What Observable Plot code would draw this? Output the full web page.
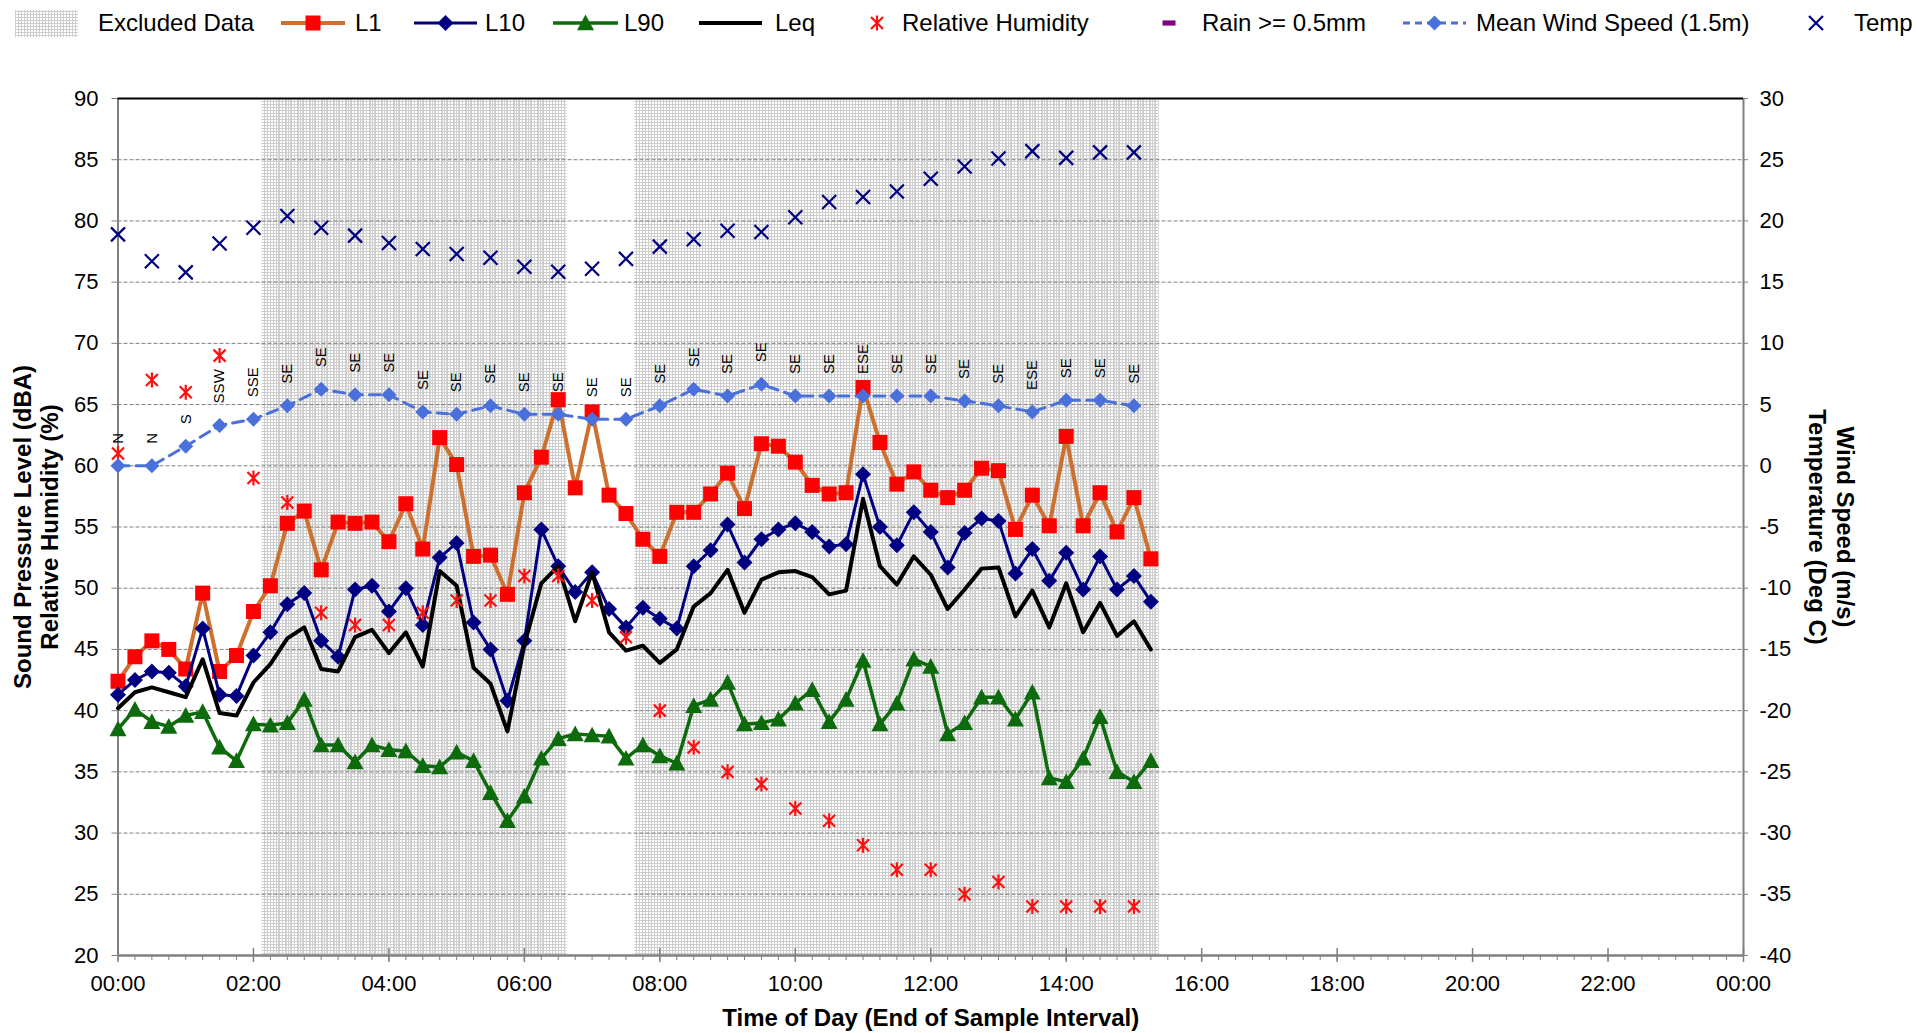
<!DOCTYPE html>
<html>
<head>
<meta charset="utf-8">
<script src="https://cdn.jsdelivr.net/npm/d3@7"></script>
<script src="https://cdn.jsdelivr.net/npm/@observablehq/plot@0.6"></script>
<style>
  html, body { margin: 0; padding: 0; background: #fff; overflow: hidden; }
  body { width: 1919px; height: 1033px; position: relative; font-family: "Liberation Sans", Arial, sans-serif; }
  #legend { position: absolute; left: 0; top: 0; width: 1919px; height: 50px; overflow: hidden; }
  .sw { position: absolute; top: 8px; }
  .lt { position: absolute; top: 0; height: 46px; line-height: 46px; font-size: 24px; white-space: nowrap; color: #000; }
  #chart { position: absolute; left: 0; top: 50px; }
</style>
</head>
<body>
<svg width="0" height="0" style="position:absolute">
  <defs>
    <pattern id="hatchA" width="3" height="3" patternUnits="userSpaceOnUse">
      <path d="M0 0.5H3M0.5 0V3" stroke="#cdcdcd" stroke-width="1" fill="none" shape-rendering="crispEdges"/>
    </pattern>
    <pattern id="hatchB" width="4" height="4" patternUnits="userSpaceOnUse">
      <path d="M2.5 0V4" stroke="#d2d2d2" stroke-width="1" fill="none" shape-rendering="crispEdges"/>
    </pattern>
  </defs>
</svg>
<div id="legend"></div>
<div id="chart"></div>
<script>
// ---------------- DATA ----------------
const OFFSET = 60;            // right axis (m/s, deg C) = left axis (dBA, %) - 60
const NOISE_STEP_H = 0.25;    // 15-minute noise intervals, from 00:00
const WEATHER_STEP_H = 0.5;   // 30-minute weather intervals, from 00:00

const L1 = [42.4,44.4,45.7,45.0,43.4,49.6,43.2,44.5,48.1,50.2,
            55.3,56.3,51.5,55.4,55.3,55.4,53.8,56.9,53.2,62.3,
            60.1,52.6,52.7,49.5,57.8,60.7,65.4,58.2,64.4,57.6,
            56.1,54.0,52.6,56.2,56.2,57.7,59.4,56.5,61.8,61.6,
            60.3,58.4,57.7,57.8,66.4,61.9,58.5,59.5,58.0,57.4,
            58.0,59.8,59.6,54.8,57.6,55.1,62.4,55.1,57.8,54.6,
            57.4,52.4];
const L10 = [41.3,42.5,43.2,43.1,42.0,46.7,41.3,41.2,44.5,46.4,
             48.7,49.6,45.7,44.4,49.9,50.2,48.1,50.0,47.0,52.5,
             53.7,47.2,45.0,40.8,45.7,54.8,51.8,49.7,51.3,48.3,
             46.8,48.4,47.5,46.7,51.8,53.1,55.2,52.1,54.0,54.8,
             55.3,54.6,53.4,53.6,59.3,55.0,53.5,56.2,54.6,51.7,
             54.5,55.7,55.5,51.2,53.2,50.6,52.9,49.9,52.6,49.9,
             51.0,48.9];
const L90 = [38.5,40.1,39.1,38.7,39.6,39.9,37.0,35.9,38.9,38.8,
             39.0,40.9,37.2,37.2,35.8,37.2,36.8,36.7,35.5,35.4,
             36.6,35.9,33.3,31.0,33.0,36.1,37.7,38.1,38.0,37.9,
             36.1,37.2,36.3,35.7,40.4,40.9,42.3,38.9,39.0,39.3,
             40.6,41.7,39.1,40.9,44.1,38.9,40.6,44.2,43.6,38.1,
             39.0,41.1,41.1,39.3,41.5,34.5,34.2,36.1,39.5,35.0,
             34.2,35.9];
const LEQ = [40.2,41.5,41.9,41.5,41.1,44.2,39.8,39.6,42.3,43.8,
             45.9,46.8,43.4,43.2,46.0,46.6,44.7,46.4,43.6,51.4,
             50.2,43.5,42.2,38.3,45.4,50.4,51.8,47.3,51.3,46.4,
             44.9,45.3,43.9,45.0,48.5,49.6,51.5,48.0,50.7,51.3,
             51.4,50.9,49.5,49.8,57.3,51.8,50.3,52.6,51.1,48.3,
             49.9,51.6,51.7,47.7,49.8,46.8,50.4,46.4,48.8,46.1,
             47.3,45.0];

const RH = [61,67,66,69,59,57,48,47,47,48,49,49,51,51,49,46,40,37,35,34,32,31,29,27,27,25,26,24,24,24,24];
const WIND = [0.0,0.0,1.6,3.3,3.8,4.9,6.25,5.8,5.8,4.4,4.2,4.9,4.2,4.2,3.8,3.8,
              4.9,6.25,5.7,6.65,5.7,5.7,5.7,5.7,5.7,5.3,4.9,4.4,5.35,5.35,4.9];
const WIND_DIR = ["N","N","S","SSW","SSE","SE","SE","SE","SE","SE","SE","SE","SE","SE","SE","SE",
                  "SE","SE","SE","SE","SE","SE","ESE","SE","SE","SE","SE","ESE","SE","SE","SE"];
const TEMP = [18.9,16.7,15.8,18.15,19.45,20.4,19.45,18.8,18.2,17.7,17.3,17.0,16.25,15.85,16.1,16.9,
              17.9,18.5,19.2,19.1,20.3,21.55,21.95,22.4,23.45,24.45,25.1,25.7,25.15,25.6,25.6];

// Excluded data periods (hours)
const EXCLUDED_OUTER = [[2.13, 6.63], [7.63, 15.37]];
const EXCLUDED_INNER = [[2.37, 6.38], [11.37, 15.37]];

const Y_TICKS = [20,25,30,35,40,45,50,55,60,65,70,75,80,85,90];
const X_MAJOR = [0,2,4,6,8,10,12,14,16,18,20,22,24];
const X_TICK_LABELS = ["00:00","02:00","04:00","06:00","08:00","10:00","12:00","14:00","16:00","18:00","20:00","22:00","00:00"];
const X_MINOR_STEP = 0.25;

const X_TITLE = "Time of Day (End of Sample Interval)";
const Y_TITLE_LEFT = "Sound Pressure Level (dBA)\nRelative Humidity (%)";
const Y_TITLE_RIGHT = "Wind Speed (m/s)\nTemperature (Deg C)";

const LEGEND_LABELS = ["Excluded Data","L1","L10","L90","Leq","Relative Humidity","Rain >= 0.5mm","Mean Wind Speed (1.5m)","Temp"];

// ---------------- STYLE ----------------
const C = {L1line:"#cd6f2f", L1mark:"#ff0000", L10:"#000080", L90:"#0d6b0d", Leq:"#000000",
           RH:"#ff1010", rain:"#800080", wind:"#4a70dc", temp:"#000080", axis:"#808080", grid:"#808080"};

const sym = {
  square: {draw(c, s){const r=Math.sqrt(s/Math.PI); c.moveTo(-r,-r); c.lineTo(r,-r); c.lineTo(r,r); c.lineTo(-r,r); c.closePath();}},
  diamond: {draw(c, s){const r=Math.sqrt(s/Math.PI); c.moveTo(0,-r); c.lineTo(r,0); c.lineTo(0,r); c.lineTo(-r,0); c.closePath();}},
  triangle: {draw(c, s){const r=Math.sqrt(s/Math.PI); c.moveTo(0,-r); c.lineTo(r,r*0.85); c.lineTo(-r,r*0.85); c.closePath();}},
  star: {draw(c, s){const r=Math.sqrt(s/Math.PI), k=r*0.8; c.moveTo(0,-r); c.lineTo(0,r); c.moveTo(-k,-k); c.lineTo(k,k); c.moveTo(-k,k); c.lineTo(k,-k);}},
  cross: {draw(c, s){const r=Math.sqrt(s/Math.PI); c.moveTo(-r,-r); c.lineTo(r,r); c.moveTo(-r,r); c.lineTo(r,-r);}},
  dash: {draw(c, s){const r=Math.sqrt(s/Math.PI); c.moveTo(-r,-r*0.4); c.lineTo(r,-r*0.4); c.lineTo(r,r*0.4); c.lineTo(-r,r*0.4); c.closePath();}}
};

// ---------------- TABLES ----------------
const noise = L1.map((v, i) => ({t: i * NOISE_STEP_H, L1: v, L10: L10[i], L90: L90[i], Leq: LEQ[i]}));
const weather = RH.map((v, i) => ({t: i * WEATHER_STEP_H, RH: v, wind: WIND[i] + OFFSET, dir: WIND_DIR[i], temp: TEMP[i] + OFFSET}));
const xMinor = d3.range(0, 24 + 1e-9, X_MINOR_STEP);

// ---------------- CHART ----------------
const chart = Plot.plot({
  width: 1919, height: 983,
  marginLeft: 117.5, marginRight: 176, marginTop: 48, marginBottom: 78,
  style: {fontFamily: '"Liberation Sans", Arial, sans-serif', fontSize: "22px", color: "#000", background: "#fff", overflow: "visible"},
  x: {domain: [0, 24]},
  y: {domain: [20, 90]},
  marks: [
    Plot.rect(EXCLUDED_OUTER, {x1: d => d[0], x2: d => d[1], fill: "url(#hatchA)"}),
    Plot.rect(EXCLUDED_INNER, {x1: d => d[0], x2: d => d[1], fill: "url(#hatchB)"}),
    Plot.gridY(Y_TICKS.filter(v => v > 20 && v < 90), {stroke: C.grid, strokeOpacity: 1, strokeDasharray: "4,2", strokeWidth: 1}),
    Plot.axisY(Y_TICKS, {anchor: "left", tickSize: 6, tickPadding: 13.5, label: null, stroke: C.axis, fontSize: 22}),
    Plot.axisY(Y_TICKS, {anchor: "right", tickSize: 4, tickPadding: 12, tickFormat: d => String(d - OFFSET), label: null, stroke: C.axis, fontSize: 22}),
    Plot.axisX(xMinor, {anchor: "bottom", tickSize: 5, fill: "none", tickFormat: () => "", label: null, stroke: C.axis}),
    Plot.axisX(X_MAJOR, {anchor: "bottom", tickSize: 14, dy: -7, fill: "none", tickFormat: () => "", label: null, stroke: C.axis, strokeWidth: 1.5}),
    Plot.axisX(X_MAJOR, {anchor: "bottom", tickSize: 0, tickPadding: 20, tickFormat: d => X_TICK_LABELS[X_MAJOR.indexOf(d)], label: null, fontSize: 22}),
    Plot.ruleX([0], {stroke: C.axis, strokeWidth: 2}),
    Plot.ruleX([24], {stroke: C.axis, strokeWidth: 2}),
    Plot.ruleY([20], {stroke: C.axis, strokeWidth: 2.5}),
    Plot.ruleY([90], {stroke: "#000", strokeWidth: 2}),

    // L1
    Plot.line(noise, {x: "t", y: "L1", stroke: C.L1line, strokeWidth: 4}),
    Plot.dot(noise, {x: "t", y: "L1", symbol: sym.square, r: 7.5, fill: C.L1mark, stroke: "none"}),
    // L10
    Plot.line(noise, {x: "t", y: "L10", stroke: C.L10, strokeWidth: 3}),
    Plot.dot(noise, {x: "t", y: "L10", symbol: sym.diamond, r: 8, fill: C.L10, stroke: "none"}),
    // L90
    Plot.line(noise, {x: "t", y: "L90", stroke: C.L90, strokeWidth: 3.5}),
    Plot.dot(noise, {x: "t", y: "L90", symbol: sym.triangle, r: 8.5, fill: C.L90, stroke: "none"}),
    // Leq
    Plot.line(noise, {x: "t", y: "Leq", stroke: C.Leq, strokeWidth: 4}),
    // RH
    Plot.dot(weather, {x: "t", y: "RH", symbol: sym.star, r: 7.5, fill: "none", stroke: C.RH, strokeWidth: 2.2}),
    // Wind
    Plot.line(weather, {x: "t", y: "wind", stroke: C.wind, strokeWidth: 3, strokeDasharray: "11,7"}),
    Plot.dot(weather, {x: "t", y: "wind", symbol: sym.diamond, r: 7.5, fill: C.wind, stroke: "none"}),
    Plot.text(weather, {x: "t", y: "wind", text: "dir", rotate: -90, textAnchor: "start", dy: -22, fontSize: 15, fill: "#000"}),
    // Temp
    Plot.dot(weather, {x: "t", y: "temp", symbol: sym.cross, r: 7, fill: "none", stroke: C.temp, strokeWidth: 2.2}),

    // titles
    Plot.text([Y_TITLE_LEFT], {text: d => d, frameAnchor: "left", dx: -82, rotate: -90, fontSize: 24, fontWeight: "bold", lineHeight: 1.13, textAnchor: "middle", lineAnchor: "middle"}),
    Plot.text([Y_TITLE_RIGHT], {text: d => d, frameAnchor: "right", dx: 88.5, rotate: 90, fontSize: 24, fontWeight: "bold", lineHeight: 1.18, textAnchor: "middle", lineAnchor: "middle"}),
    Plot.text([X_TITLE], {text: d => d, frameAnchor: "bottom", dy: 63, fontSize: 24, fontWeight: "bold", lineAnchor: "middle"})
  ]
});
document.getElementById("chart").appendChild(chart);

// ---------------- LEGEND ----------------
// [swatch left, swatch width, text left] (px)
const LEGEND_LAYOUT = [[15,63,98],[281,64,355],[414,63,485],[553,65,624],[699,63,775],[862,30,902],[1154,30,1202],[1403,63,1476],[1801,30,1854]];
const LEGEND_KIND = [
  {band: true},
  {line: C.L1line, lw: 4, marker: sym.square, r: 7.5, fill: C.L1mark},
  {line: C.L10, lw: 3, marker: sym.diamond, r: 8, fill: C.L10},
  {line: C.L90, lw: 3.5, marker: sym.triangle, r: 8.5, fill: C.L90},
  {line: C.Leq, lw: 4},
  {marker: sym.star, r: 7.5, stroke: C.RH},
  {marker: sym.dash, r: 6.5, fill: C.rain},
  {line: C.wind, lw: 3, dash: "7,5", marker: sym.diamond, r: 7.5, fill: C.wind},
  {marker: sym.cross, r: 7, stroke: C.temp}
];
const legend = d3.select("#legend");
LEGEND_LABELS.forEach((label, i) => {
  const [sl, sw, tl] = LEGEND_LAYOUT[i];
  const k = LEGEND_KIND[i];
  const svg = legend.append("svg").attr("class", "sw").style("left", sl + "px").attr("width", sw).attr("height", 30);
  if (k.band) {
    svg.append("rect").attr("x", 0).attr("y", 2).attr("width", sw).attr("height", 27).attr("fill", "url(#hatchA)");
  }
  if (k.line) {
    svg.append("line").attr("x1", 0).attr("x2", sw).attr("y1", 15).attr("y2", 15)
      .attr("stroke", k.line).attr("stroke-width", k.lw).attr("stroke-dasharray", k.dash || null);
  }
  if (k.marker) {
    svg.append("path").attr("transform", `translate(${sw / 2},15)`)
      .attr("d", d3.symbol(k.marker, Math.PI * k.r * k.r)())
      .attr("fill", k.fill || "none").attr("stroke", k.stroke || "none").attr("stroke-width", k.stroke ? 2.2 : 0);
  }
  legend.append("div").attr("class", "lt").style("left", tl + "px").text(label);
});
</script>
</body>
</html>
